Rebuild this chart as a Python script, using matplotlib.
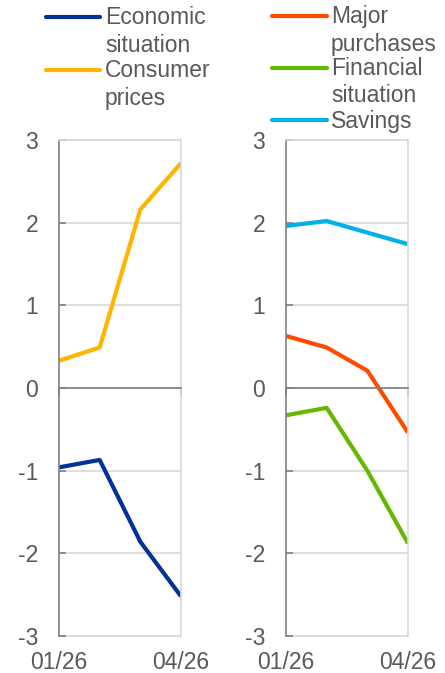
import matplotlib
matplotlib.use("Agg")
import matplotlib.pyplot as plt
from matplotlib.lines import Line2D
import numpy as np

plt.rcParams['font.family'] = ['Liberation Sans', 'DejaVu Sans']

months = ["01/26", "02/26", "03/26", "04/26"]
tick_labels = ["01/26", "04/26"]

economic_situation = [-0.96, -0.87, -1.86, -2.52]
consumer_prices = [0.33, 0.49, 2.16, 2.72]

major_purchases = [0.63, 0.49, 0.21, -0.54]
financial_situation = [-0.33, -0.24, -1.00, -1.88]
savings = [1.96, 2.02, 1.88, 1.74]

C_BLUE = "#003299"
C_YELLOW = "#FFB400"
C_ORANGE = "#FF4B00"
C_GREEN = "#65B800"
C_LIGHT = "#00B1EA"
TXT = "#595959"
GRID = "#D9D9D9"
AX = "#808080"
FS = 16.5

W, H = 445, 673
fig = plt.figure(figsize=(W / 100, H / 100), dpi=100)

def make_ax(left_px, right_px):
    top_px, bot_px = 140, 636
    ax = fig.add_axes([left_px / W, 1 - bot_px / H, (right_px - left_px) / W, (bot_px - top_px) / H])
    return ax

def style(ax):
    x = np.arange(len(months))
    ax.set_xlim(0, len(months) - 1)
    ax.set_ylim(-3, 3)
    ax.set_yticks([-3, -2, -1, 0, 1, 2, 3])
    ax.set_yticklabels(["-3", "-2", "-1", "0", "1", "2", "3"])
    ax.yaxis.grid(True, color=GRID, linewidth=1.2, zorder=0)
    ax.set_axisbelow(True)
    ax.tick_params(axis='y', direction='in', length=5, width=1.2, color=AX,
                   labelsize=FS, labelcolor=TXT, pad=15)
    for s in ['top', 'right']:
        ax.spines[s].set_color(GRID)
        ax.spines[s].set_linewidth(1.2)
    ax.spines['left'].set_color(AX)
    ax.spines['left'].set_linewidth(1.2)
    ax.spines['bottom'].set_position(('data', 0))
    ax.spines['bottom'].set_color(AX)
    ax.spines['bottom'].set_linewidth(1.2)
    ax.set_xticks([0, len(months) - 1])
    ax.set_xticklabels(["", ""])
    ax.tick_params(axis='x', direction='out', length=5, width=1.2, color=AX)
    sec = ax.secondary_xaxis('bottom')
    sec.set_xticks([0, len(months) - 1])
    sec.set_xticklabels(tick_labels)
    sec.tick_params(axis='x', length=0, labelsize=FS, labelcolor=TXT, pad=11)
    sec.spines['bottom'].set_color(GRID)
    sec.spines['bottom'].set_linewidth(1.2)
    return x

ax1 = make_ax(59, 181)
x = style(ax1)
ax1.plot(x, economic_situation, color=C_BLUE, lw=3, solid_capstyle='butt')
ax1.plot(x, consumer_prices, color=C_YELLOW, lw=3, solid_capstyle='butt')

ax2 = make_ax(286, 408)
x = style(ax2)
ax2.plot(x, major_purchases, color=C_ORANGE, lw=3, solid_capstyle='butt')
ax2.plot(x, financial_situation, color=C_GREEN, lw=3, solid_capstyle='butt')
ax2.plot(x, savings, color=C_LIGHT, lw=3, solid_capstyle='butt')

# manual legend (handles aligned with first line of each label)
STEP = 26.5
legend_entries = [
    ("Economic\nsituation", C_BLUE, 46, 100, 105, 25),
    ("Consumer\nprices", C_YELLOW, 46, 100, 105, 78),
    ("Major\npurchases", C_ORANGE, 272, 327, 331, 24),
    ("Financial\nsituation", C_GREEN, 272, 327, 331, 76),
    ("Savings", C_LIGHT, 272, 327, 331, 128),
]
for label, col, x0, x1, xt, base in legend_entries:
    yc = base - 8
    nl = label.count("\n")
    fig.add_artist(Line2D([x0 / W, x1 / W], [1 - yc / H, 1 - yc / H], transform=fig.transFigure,
                          color=col, lw=3, solid_capstyle='round'))
    fig.text(xt / W, 1 - (base + nl * STEP) / H, label, fontsize=FS, color=TXT,
             ha='left', va='baseline', linespacing=1.27)

fig.savefig("out.png", dpi=100)
